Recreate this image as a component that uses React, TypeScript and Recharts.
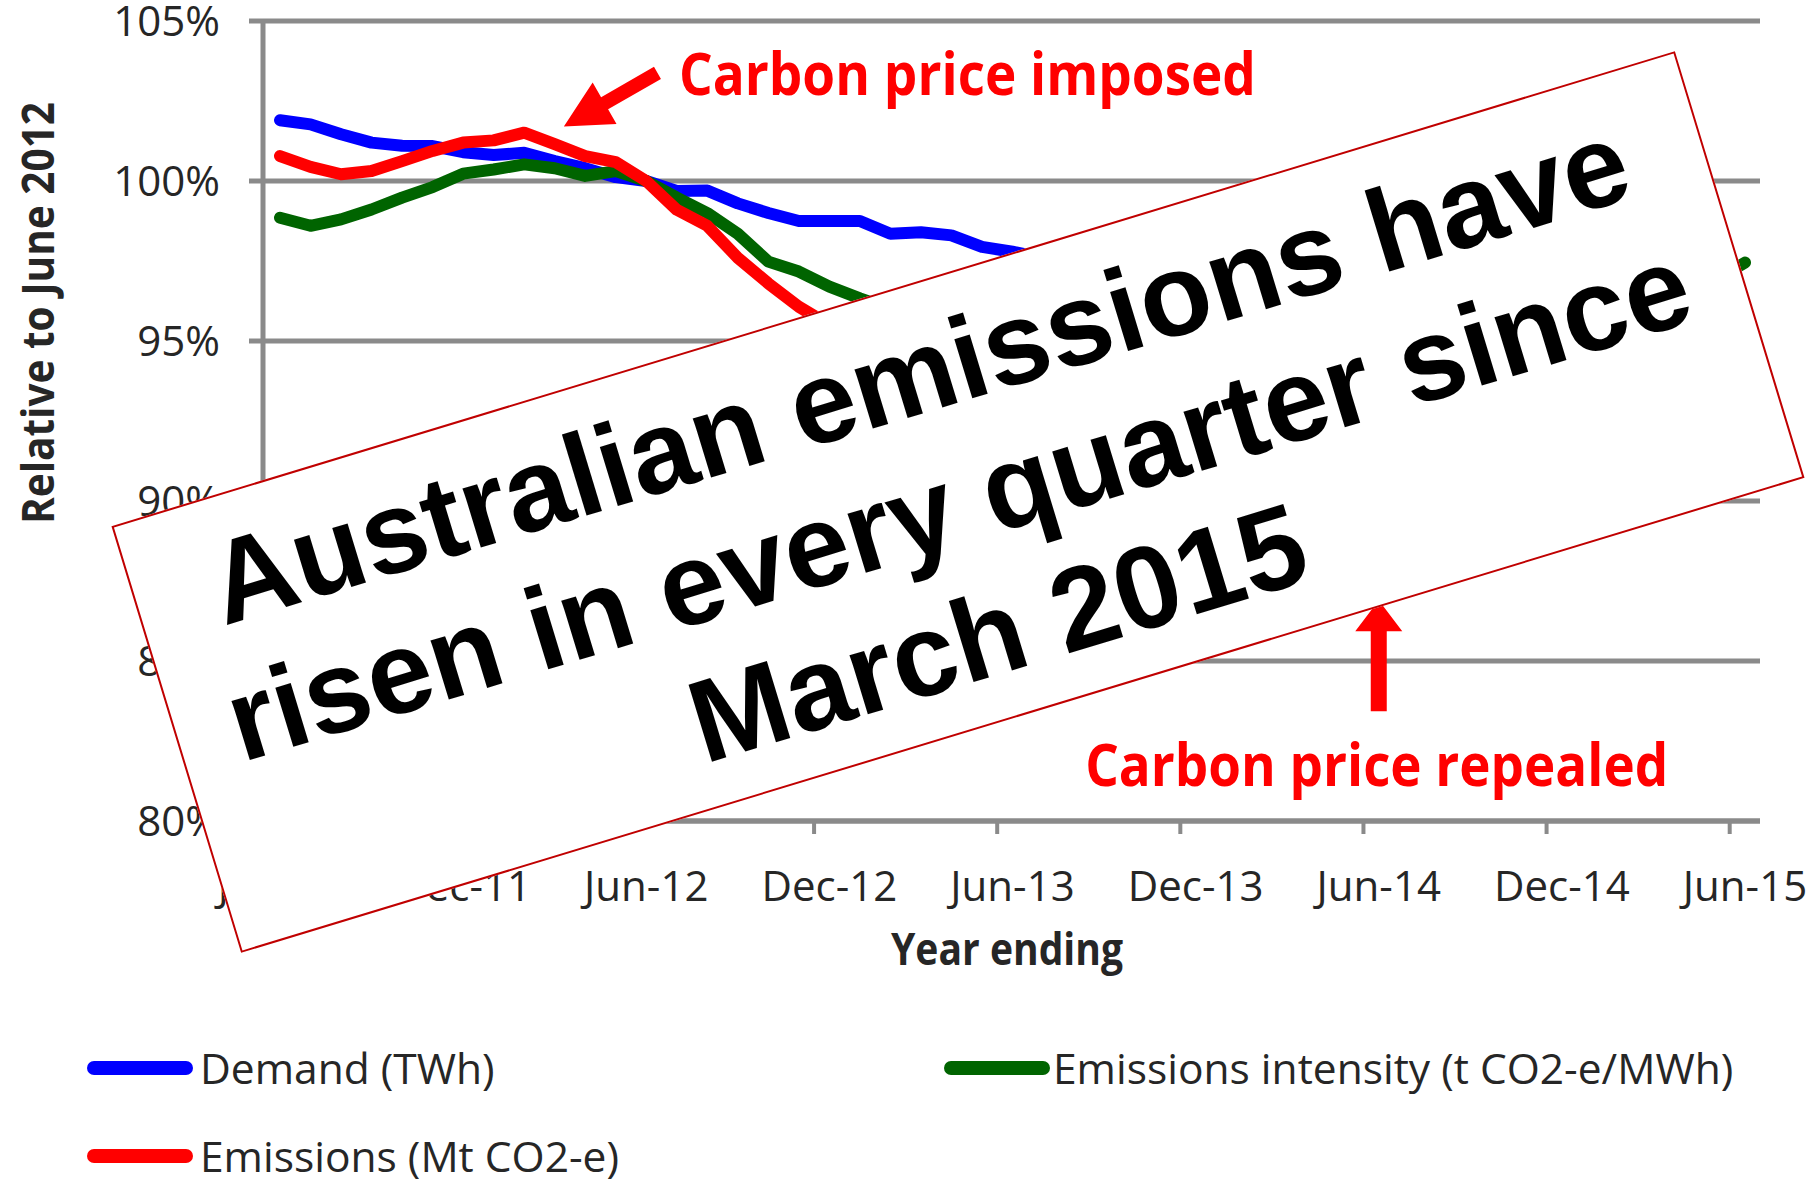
import React from "react";
import {
  CartesianGrid,
  Legend,
  Line,
  LineChart,
  ReferenceDot,
  XAxis,
  YAxis,
} from "recharts";

// Year ending, monthly, Jun-11 .. Jun-15
const MONTHS = [
  "Jun-11", "Jul-11", "Aug-11", "Sep-11", "Oct-11", "Nov-11", "Dec-11",
  "Jan-12", "Feb-12", "Mar-12", "Apr-12", "May-12", "Jun-12", "Jul-12", "Aug-12", "Sep-12", "Oct-12", "Nov-12", "Dec-12",
  "Jan-13", "Feb-13", "Mar-13", "Apr-13", "May-13", "Jun-13", "Jul-13", "Aug-13", "Sep-13", "Oct-13", "Nov-13", "Dec-13",
  "Jan-14", "Feb-14", "Mar-14", "Apr-14", "May-14", "Jun-14", "Jul-14", "Aug-14", "Sep-14", "Oct-14", "Nov-14", "Dec-14",
  "Jan-15", "Feb-15", "Mar-15", "Apr-15", "May-15", "Jun-15",
];

// % relative to June 2012 (values behind the banner are estimates)
const DEMAND = [
  101.9, 101.77, 101.46, 101.2, 101.1, 101.09, 100.9, 100.81, 100.88, 100.62, 100.4, 100.12,
  100.0, 99.69, 99.7, 99.3, 99.0, 98.75, 98.75, 98.75, 98.35, 98.4, 98.3, 97.94, 97.79,
  97.6, 97.5, 97.3, 97.2, 97.0, 96.9, 96.7, 96.6, 96.4, 96.2, 96.0, 95.8,
  95.7, 95.6, 95.5, 95.5, 95.4, 95.4, 95.4, 95.5, 95.5, 95.6, 95.6, 95.7,
];
const EMISSIONS = [
  100.78, 100.44, 100.21, 100.31, 100.62, 100.94, 101.2, 101.27, 101.51, 101.15, 100.78, 100.59,
  100.0, 99.1, 98.6, 97.6, 96.8, 96.07, 95.5, 95.1, 94.7, 94.3, 93.9, 93.6, 93.2,
  92.9, 92.6, 92.2, 91.8, 91.4, 91.0, 90.6, 90.3, 90.0, 89.8, 89.5, 89.2,
  89.4, 89.7, 90.0, 90.3, 90.6, 90.9, 91.2, 91.5, 91.8, 92.1, 92.4, 92.7,
];
const INTENSITY = [
  98.85, 98.6, 98.8, 99.11, 99.48, 99.81, 100.23, 100.36, 100.52, 100.4, 100.16, 100.31,
  100.0, 99.48, 99.0, 98.35, 97.48, 97.17, 96.7, 96.33, 96.0, 95.7, 95.5, 95.3, 95.2,
  95.0, 94.8, 94.6, 94.4, 94.2, 94.0, 93.8, 93.7, 93.6, 93.6, 93.5, 93.5,
  93.6, 94.0, 94.4, 94.8, 95.1, 95.4, 95.7, 96.0, 96.3, 96.6, 96.9, 97.45,
];

const Y_TICKS = [80, 85, 90, 95, 100, 105];
const X_TICKS = [0, 6, 12, 18, 24, 30, 36, 42, 48];

const SERIES_NAMES = ["Demand (TWh)", "Emissions intensity (t CO2-e/MWh)", "Emissions (Mt CO2-e)"];

// annotation anchors in data units (month index, %)
const ARROW_TIPS = [
  { x: 9.3, y: 101.7 },
  { x: 36, y: 86.9 },
];
const NOTES = [
  { x: 13.07, y: 102.69, text: "Carbon price imposed" },
  { x: 26.38, y: 81.09, text: "Carbon price repealed" },
];

const GRID = "#8a8a8a";
const TEXT = "#262626";
const FONT = '"Open Sans", "Noto Sans", sans-serif';
const COLORS = ["#0000ff", "#006400", "#ff0000"];

const data = MONTHS.map((m, i) => ({
  i,
  month: m,
  demand: DEMAND[i],
  intensity: INTENSITY[i],
  emissions: EMISSIONS[i],
}));

function arrowPoints(
  cx: number, cy: number, ux: number, uy: number,
  len: number, headLen: number, headHalf: number, shaftHalf: number,
) {
  const nx = -uy;
  const ny = ux;
  const p = (a: number, b: number) => `${cx + ux * a + nx * b},${cy + uy * a + ny * b}`;
  return [
    p(0, 0), p(headLen, headHalf), p(headLen, shaftHalf), p(len, shaftHalf),
    p(len, -shaftHalf), p(headLen, -shaftHalf), p(headLen, -headHalf),
  ].join(" ");
}

const ARROW_SHAPES = [
  (cx: number, cy: number) => arrowPoints(cx, cy, 0.867, -0.498, 108, 47, 24, 7),
  (cx: number, cy: number) => arrowPoints(cx, cy, 0, 1, 111, 31, 23.5, 8),
];

const XTick = (props: any) => {
  const { x, y, payload } = props;
  return (
    <g>
      <line x1={x - 15.3} x2={x - 15.3} y1={y} y2={y + 13} stroke={GRID} strokeWidth={4} />
      <text x={x} y={y + 80} textAnchor="middle" fontSize={42} fill={TEXT} fontFamily={FONT}>
        {MONTHS[payload.value]}
      </text>
    </g>
  );
};

const YTitle = () => (
  <text
    x={37}
    y={313}
    transform="rotate(-90, 37, 313)"
    textAnchor="middle"
    dominantBaseline="central"
    fontSize={44}
    fontWeight={700}
    fill={TEXT}
    fontFamily={FONT}
    textLength={422}
    lengthAdjust="spacingAndGlyphs"
  >
    Relative to June 2012
  </text>
);

const XTitle = () => (
  <text
    x={1007}
    y={965}
    textAnchor="middle"
    fontSize={44}
    fontWeight={700}
    fill={TEXT}
    fontFamily={FONT}
    textLength={232}
    lengthAdjust="spacingAndGlyphs"
  >
    Year ending
  </text>
);

const LEGEND_POS = [
  { sx: 87, tx: 200, cy: 56 },
  { sx: 944, tx: 1053, cy: 56 },
  { sx: 87, tx: 200, cy: 144 },
];

const renderLegend = () => (
  <div style={{ position: "relative", width: 1760, height: 160, fontFamily: FONT, fontSize: 42.5, color: TEXT }}>
    {SERIES_NAMES.map((name, k) => (
      <React.Fragment key={name}>
        <div
          style={{
            position: "absolute",
            left: LEGEND_POS[k].sx,
            top: LEGEND_POS[k].cy - 7,
            width: 106,
            height: 14,
            borderRadius: 7,
            background: COLORS[k],
          }}
        />
        <div
          style={{
            position: "absolute",
            left: LEGEND_POS[k].tx,
            top: LEGEND_POS[k].cy - 30,
            height: 60,
            lineHeight: "60px",
            whiteSpace: "nowrap",
          }}
        >
          {name}
        </div>
      </React.Fragment>
    ))}
  </div>
);

export default function App() {
  return (
    <div style={{ position: "absolute", left: 0, top: 0, width: 1820, height: 1182, background: "#fff", overflow: "hidden" }}>
      <LineChart width={1820} height={1182} data={data} margin={{ top: 21, right: 60, bottom: 10, left: 0 }}>
        <CartesianGrid vertical={false} stroke={GRID} strokeWidth={5} />
        <XAxis
          type="number"
          dataKey="i"
          domain={[0, 48]}
          ticks={X_TICKS}
          interval={0}
          padding={{ left: 17, right: 15 }}
          height={191}
          axisLine={{ stroke: GRID, strokeWidth: 5 }}
          tickLine={false}
          tickSize={0}
          tickMargin={0}
          tick={<XTick />}
          label={<XTitle />}
        />
        <YAxis
          type="number"
          domain={[80, 105]}
          ticks={Y_TICKS}
          interval={0}
          width={263}
          axisLine={{ stroke: GRID, strokeWidth: 5 }}
          tickLine={{ stroke: GRID, strokeWidth: 5 }}
          tickSize={14}
          tickMargin={29}
          tick={{ fontSize: 42, fill: TEXT, fontFamily: FONT }}
          tickFormatter={(v: number) => `${v}%`}
          label={<YTitle />}
        />
        <Legend content={renderLegend} verticalAlign="bottom" />
        <Line
          type="linear"
          dataKey="demand"
          name={SERIES_NAMES[0]}
          stroke={COLORS[0]}
          strokeWidth={12}
          strokeLinecap="round"
          strokeLinejoin="round"
          dot={false}
          activeDot={false}
          isAnimationActive={false}
        />
        <Line
          type="linear"
          dataKey="intensity"
          name={SERIES_NAMES[1]}
          stroke={COLORS[1]}
          strokeWidth={12}
          strokeLinecap="round"
          strokeLinejoin="round"
          dot={false}
          activeDot={false}
          isAnimationActive={false}
        />
        <Line
          type="linear"
          dataKey="emissions"
          name={SERIES_NAMES[2]}
          stroke={COLORS[2]}
          strokeWidth={12}
          strokeLinecap="round"
          strokeLinejoin="round"
          dot={false}
          activeDot={false}
          isAnimationActive={false}
        />
        {ARROW_TIPS.map((a, k) => (
          <ReferenceDot
            key={`arrow-${k}`}
            x={a.x}
            y={a.y}
            r={1}
            shape={(p: any) => <polygon points={ARROW_SHAPES[k](p.cx, p.cy)} fill="#ff0000" />}
          />
        ))}
        {NOTES.map((n, k) => (
          <ReferenceDot
            key={`note-${k}`}
            x={n.x}
            y={n.y}
            r={1}
            shape={(p: any) => (
              <text
                x={p.cx}
                y={p.cy}
                fontSize={59}
                fontWeight={700}
                fill="#ff0000"
                fontFamily={FONT}
                textLength={k === 0 ? 577 : 583}
                lengthAdjust="spacingAndGlyphs"
              >
                {n.text}
              </text>
            )}
          />
        ))}
      </LineChart>
      <div
        style={{
          position: "absolute",
          left: 140.5,
          top: 279,
          width: 1634,
          height: 446,
          boxSizing: "border-box",
          border: "2px solid #c00000",
          background: "#fff",
          transform: "rotate(-16.9deg)",
          fontFamily: '"Liberation Sans", Arial, sans-serif',
          fontWeight: 700,
          fontSize: 117,
          lineHeight: "136px",
          paddingTop: 18,
          textAlign: "center",
          color: "#000",
          whiteSpace: "nowrap",
        }}
      >
        Australian emissions have
        <br />
        risen in every quarter since
        <br />
        March 2015
      </div>
    </div>
  );
}
